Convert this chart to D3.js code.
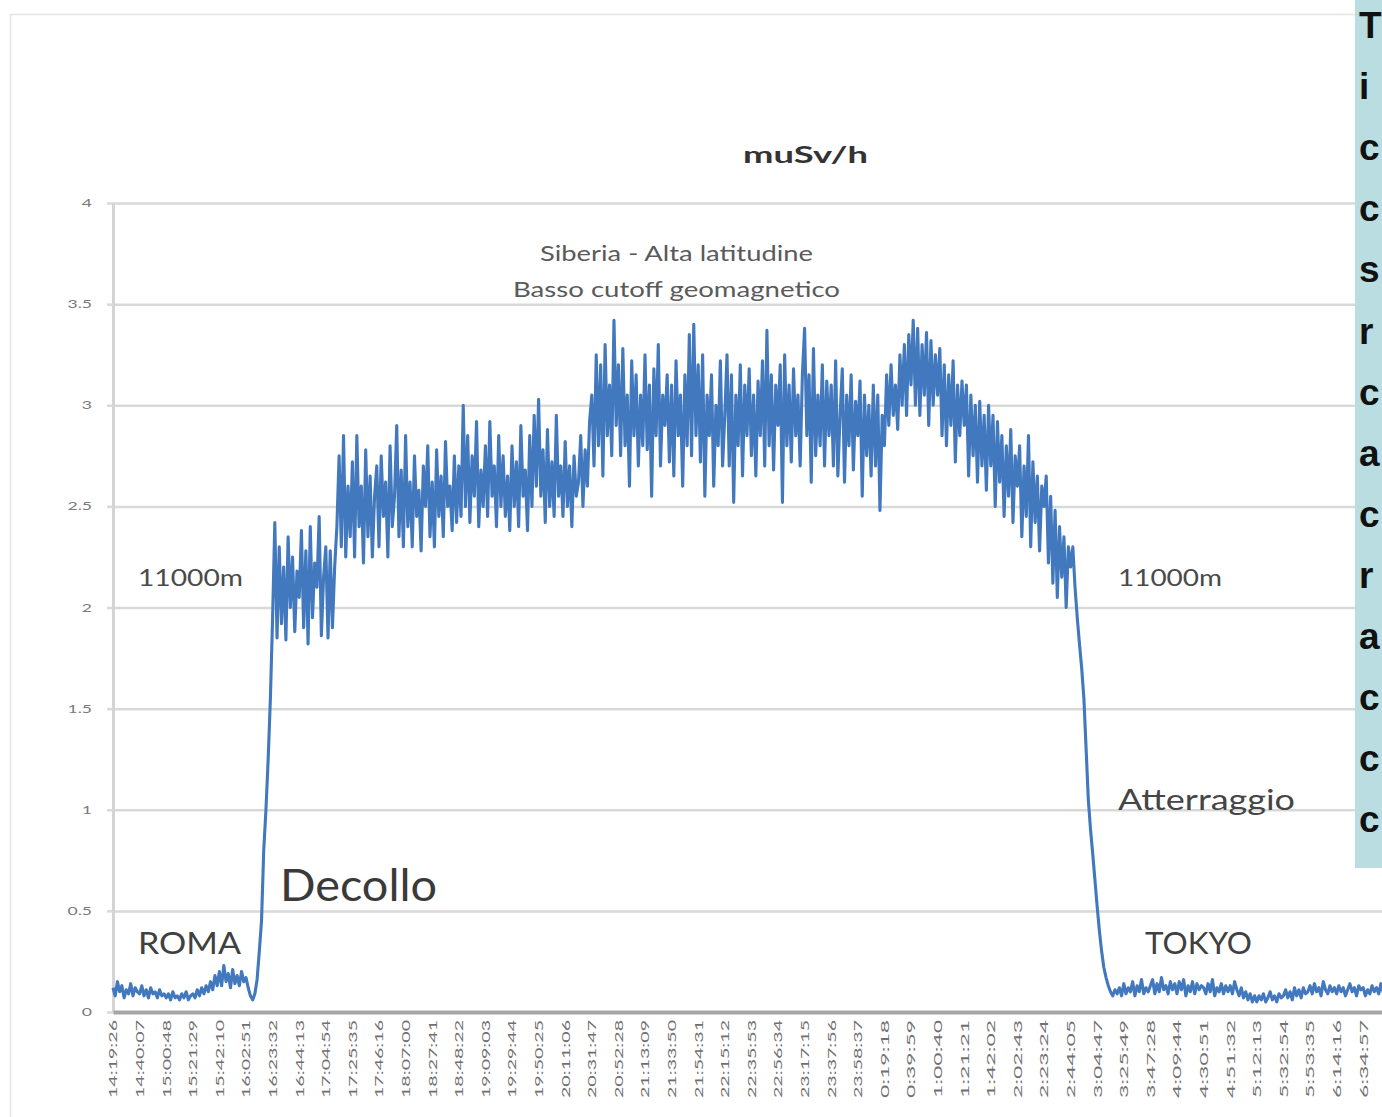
<!DOCTYPE html>
<html><head><meta charset="utf-8">
<script src="https://cdn.jsdelivr.net/npm/d3@7"></script>
<style>
html,body{margin:0;padding:0;background:#fff;overflow:hidden}
svg{display:block}
</style></head>
<body>
<svg id="chart" width="1382" height="1117"></svg>
<script>
// ---------- DATA ----------
const chartTitle = "muSv/h";
const timeLabels = ["14:19:26","14:40:07","15:00:48","15:21:29","15:42:10","16:02:51","16:23:32","16:44:13","17:04:54","17:25:35","17:46:16","18:07:00","18:27:41","18:48:22","19:09:03","19:29:44","19:50:25","20:11:06","20:31:47","20:52:28","21:13:09","21:33:50","21:54:31","22:15:12","22:35:53","22:56:34","23:17:15","23:37:56","23:58:37","0:19:18","0:39:59","1:00:40","1:21:21","1:42:02","2:02:43","2:23:24","2:44:05","3:04:47","3:25:49","3:47:28","4:09:44","4:30:51","4:51:32","5:12:13","5:32:54","5:53:35","6:14:16","6:34:57"];
const samplesPerLabel = 12;
const yTicks = [0,0.5,1,1.5,2,2.5,3,3.5,4];
const yTickLabels = ["0","0.5","1","1.5","2","2.5","3","3.5","4"];
const doseValues = [
0.12,0.08,0.15,0.10,0.13,0.07,0.11,0.09,0.14,0.08,0.12,0.10,
0.09,0.13,0.08,0.11,0.07,0.12,0.09,0.10,0.07,0.11,0.08,0.09,
0.07,0.09,0.06,0.10,0.07,0.08,0.06,0.09,0.07,0.10,0.06,0.08,
0.09,0.07,0.11,0.08,0.12,0.09,0.13,0.10,0.15,0.11,0.18,0.13,
0.20,0.13,0.23,0.15,0.19,0.12,0.21,0.14,0.18,0.13,0.20,0.15,
0.17,0.12,0.08,0.06,0.09,0.16,0.30,0.45,0.80,1.00,1.25,1.55,
1.95,2.42,1.85,2.30,1.92,2.20,1.84,2.35,2.00,2.25,1.88,2.18,
2.05,2.38,1.90,2.28,1.82,2.40,1.95,2.22,2.10,2.45,1.86,2.15,
2.30,1.85,2.28,1.90,2.20,2.40,2.75,2.30,2.85,2.25,2.60,2.35,
2.72,2.25,2.85,2.40,2.60,2.22,2.78,2.35,2.65,2.25,2.55,2.70,
2.30,2.75,2.45,2.62,2.25,2.80,2.40,2.55,2.90,2.35,2.68,2.30,
2.85,2.40,2.62,2.30,2.75,2.45,2.58,2.28,2.70,2.50,2.80,2.35,
2.62,2.30,2.78,2.45,2.65,2.35,2.82,2.50,2.60,2.38,2.75,2.42,
2.70,2.45,3.00,2.50,2.85,2.42,2.75,2.55,2.92,2.40,2.68,2.50,
2.80,2.45,2.92,2.55,2.70,2.40,2.85,2.50,2.75,2.45,2.65,2.38,
2.80,2.50,2.72,2.40,2.90,2.55,2.68,2.38,2.85,2.50,2.95,2.60,
3.03,2.55,2.78,2.42,2.88,2.50,2.72,2.45,2.95,2.55,2.70,2.45,
2.82,2.50,2.70,2.40,2.75,2.55,2.62,2.85,2.50,2.78,2.60,2.92,
3.05,2.70,3.25,2.80,3.20,2.65,3.30,2.85,3.10,2.75,3.42,2.90,
3.20,2.75,3.28,2.80,3.05,2.60,3.22,2.85,3.15,2.70,3.05,2.80,
3.25,2.78,3.10,2.55,3.18,2.85,3.30,2.70,3.05,2.90,3.15,2.72,
3.10,2.65,3.22,2.85,3.05,2.60,3.15,2.80,3.35,2.75,3.40,2.85,
3.20,2.72,3.25,2.55,3.05,2.85,3.15,2.60,3.00,2.80,3.22,2.70,
2.95,3.25,2.70,3.15,2.52,3.05,2.80,3.20,2.65,3.10,2.85,3.18,
2.75,3.05,2.65,3.12,2.85,3.22,2.70,3.37,2.80,3.15,2.68,3.10,
2.90,3.20,2.52,3.25,2.80,3.10,2.72,3.18,2.85,3.05,2.70,3.15,
3.38,2.85,3.15,2.62,3.28,2.75,3.05,2.80,3.20,2.70,3.12,2.85,
3.10,2.70,3.22,2.65,2.95,3.18,2.62,3.05,2.80,3.15,2.68,3.02,
2.85,3.12,2.55,3.05,2.75,3.00,2.65,3.10,2.70,3.05,2.48,2.95,
2.80,3.15,2.90,3.20,2.95,3.10,2.88,3.25,3.00,3.30,2.95,3.35,
3.10,3.42,3.00,3.38,2.95,3.30,3.05,3.36,2.90,3.32,3.00,3.25,
3.05,3.28,2.85,3.20,2.80,3.15,2.90,3.22,2.72,3.10,2.85,3.12,
2.90,3.10,2.65,3.05,2.75,3.00,2.62,3.02,2.70,2.95,2.58,3.00,
2.70,2.95,2.50,2.92,2.62,2.85,2.45,2.80,2.55,2.88,2.42,2.75,
2.60,2.80,2.35,2.70,2.45,2.85,2.30,2.72,2.42,2.65,2.28,2.60,
2.50,2.65,2.22,2.55,2.12,2.48,2.05,2.40,2.15,2.35,2.00,2.30,
2.20,2.30,2.10,1.95,1.82,1.70,1.55,1.30,1.05,0.90,0.78,0.65,
0.52,0.40,0.30,0.22,0.17,0.13,0.10,0.08,0.11,0.09,0.12,0.08,
0.14,0.09,0.12,0.10,0.15,0.08,0.13,0.10,0.16,0.09,0.12,0.10,
0.13,0.16,0.09,0.14,0.10,0.17,0.11,0.13,0.09,0.15,0.11,0.14,
0.09,0.15,0.11,0.16,0.08,0.13,0.10,0.15,0.09,0.14,0.11,0.13,
0.12,0.09,0.14,0.10,0.16,0.08,0.12,0.10,0.14,0.09,0.13,0.10,
0.13,0.09,0.15,0.11,0.08,0.12,0.07,0.10,0.06,0.09,0.05,0.08,
0.05,0.08,0.06,0.09,0.05,0.07,0.10,0.06,0.08,0.05,0.09,0.07,
0.08,0.11,0.07,0.10,0.06,0.12,0.08,0.11,0.07,0.12,0.09,0.10,
0.13,0.09,0.14,0.10,0.12,0.08,0.15,0.11,0.09,0.13,0.10,0.12,
0.09,0.13,0.10,0.12,0.08,0.11,0.14,0.10,0.12,0.08,0.13,0.11,
0.12,0.08,0.11,0.09,0.13,0.10,0.12,0.09,0.14,0.10,0.11,0.09,
0.10
];
const noteSiberia = ["Siberia - Alta latitudine","Basso cutoff geomagnetico"];
const noteAltitude = "11000m";
const noteTakeoff = "Decollo";
const noteLanding = "Atterraggio";
const noteOrigin = "ROMA";
const noteDestination = "TOKYO";
// only the first letters of the side panel survive the crop at the right edge
const sidebarLetters = ["T","i","c","c","s","r","c","a","c","r","a","c","c","c"];

// ---------- DRAW ----------
const W = 1382, H = 1117;
const svg = d3.select("#chart");
const x0 = 113, labelStep = 26.6;
const nSteps = timeLabels.length;
const x = d3.scaleLinear().domain([0, nSteps*samplesPerLabel]).range([x0, x0 + nSteps*labelStep]);
const y = d3.scaleLinear().domain([0, 4]).range([1012, 203]);

// outer chart frame
svg.append("rect").attr("x",10.5).attr("y",14.5).attr("width",1500).attr("height",1200)
  .attr("fill","#fff").attr("stroke","#e4e4e4").attr("stroke-width",1.5);

// gridlines
const grid = svg.append("g").attr("transform",`translate(${x0},0)`)
  .call(d3.axisLeft(y).tickValues(yTicks).tickSize(-(W - x0 + 30)).tickFormat(""));
grid.select(".domain").remove();
grid.selectAll("line").attr("stroke","#d9d9d9").attr("stroke-width",2.5);

// y axis
const yAx = svg.append("g").attr("transform",`translate(${x0},0)`)
  .call(d3.axisLeft(y).tickValues(yTicks).tickSize(6).tickSizeOuter(0).tickPadding(15)
    .tickFormat((d,i)=>yTickLabels[i]));
yAx.select(".domain").attr("stroke","#d4d4d4").attr("stroke-width",3);
yAx.selectAll("line").attr("stroke","#d9d9d9").attr("stroke-width",2.5);
yAx.selectAll("text").attr("fill","#7a7a7a").style("font-family","Lato, sans-serif").style("font-size","11px")
  .each(function(){ const L=this.getComputedTextLength(); d3.select(this).attr("textLength",L*1.6).attr("lengthAdjust","spacingAndGlyphs"); });

// x axis
const xAx = svg.append("g").attr("transform",`translate(0,${y(0)})`)
  .call(d3.axisBottom(x).tickValues(d3.range(nSteps).map(k=>k*samplesPerLabel))
    .tickSize(0).tickSizeOuter(0).tickFormat((d,i)=>timeLabels[i]));
xAx.select(".domain").attr("stroke","#a6a6a6").attr("stroke-width",4);
xAx.selectAll("text")
  .attr("transform","rotate(-90)").attr("x",-8).attr("y",0).attr("dy","0.36em")
  .style("text-anchor","end").attr("fill","#707070")
  .style("font-family","Lato, sans-serif").style("font-size","11px")
  .attr("textLength",78).attr("lengthAdjust","spacingAndGlyphs");

// data line
const line = d3.line().x((d,i)=>x(i)).y(d=>y(d));
svg.append("path").datum(doseValues).attr("d",line)
  .attr("fill","none").attr("stroke","#4178be").attr("stroke-width",3.1).attr("stroke-linejoin","round");

// annotations
function txt(t, xx, yy, size, len, opts={}){
  const el = svg.append("text").attr("x",xx).attr("y",yy).text(t)
    .style("font-family", opts.family || "Lato, sans-serif")
    .style("font-size", size+"px")
    .style("font-weight", opts.weight || "normal")
    .attr("fill", opts.fill || "#404040");
  if (len) el.attr("textLength",len).attr("lengthAdjust","spacingAndGlyphs");
  return el;
}
txt(chartTitle, 743, 163, 23, 125, {weight:"bold", fill:"#333"});
txt(noteSiberia[0], 540, 261, 21, 273, {fill:"#5a5a5a"});
txt(noteSiberia[1], 513, 297, 21, 327, {fill:"#5a5a5a"});
txt(noteAltitude, 138, 586, 23, 105, {fill:"#4a4a4a"});
txt(noteAltitude, 1118, 586, 23, 104, {fill:"#4a4a4a"});
txt(noteLanding, 1118, 810, 29, 177, {fill:"#454545"});
txt(noteTakeoff, 280, 901, 44, 157, {fill:"#3a3a3a"});
txt(noteOrigin, 138, 954, 31, 103, {fill:"#404040"});
txt(noteDestination, 1145, 954, 31, 107, {fill:"#404040"});

// sidebar box (cut off at right edge)
svg.append("rect").attr("x",1355).attr("y",-2).attr("width",60).attr("height",870).attr("fill","#b9dde1");
svg.append("g").selectAll("text").data(sidebarLetters).join("text")
  .attr("x",1359).attr("y",(d,i)=> 38 + i*61.1)
  .text(d=>d)
  .style("font-family","'Liberation Sans', Arial, sans-serif").style("font-weight","bold")
  .style("font-size","37px").attr("fill","#111");
</script>
</body></html>
